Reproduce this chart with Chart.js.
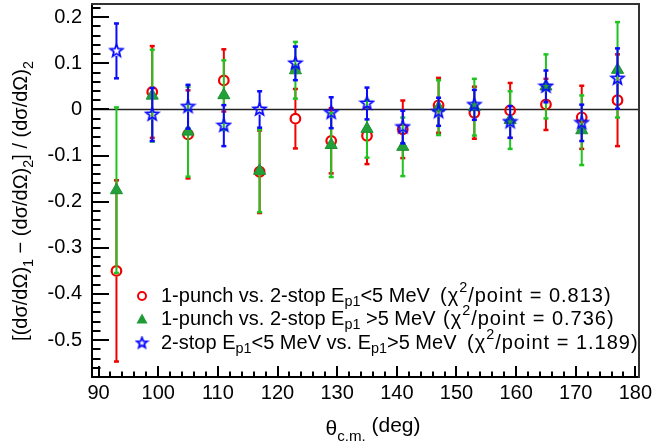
<!DOCTYPE html>
<html>
<head>
<meta charset="utf-8">
<script src="https://cdn.jsdelivr.net/npm/chart.js@4.4.1/dist/chart.umd.min.js"></script>
<style>
  html, body { margin: 0; padding: 0; background: #fff; }
</style>
</head>
<body>
<canvas id="chart" width="655" height="445"></canvas>
<script>
// scattering angles (deg)
const angles = [93, 99, 105, 111, 117, 123, 129, 135, 141, 147, 153, 159, 165, 171, 177];

// 1-punch vs. 2-stop Ep1 < 5 MeV
const lowVals = [-0.350, 0.038, -0.054, 0.063, -0.135, -0.020, -0.068, -0.057, -0.043, 0.009, -0.007, -0.002, 0.011, -0.017, 0.020];
const lowErrs = [0.197, 0.100, 0.096, 0.068, 0.090, 0.065, 0.071, 0.062, 0.063, 0.060, 0.057, 0.060, 0.056, 0.069, 0.100];

// 1-punch vs. 2-stop Ep1 > 5 MeV
const highVals = [-0.175, 0.030, -0.048, 0.031, -0.133, 0.085, -0.077, -0.042, -0.081, 0.004, 0.005, -0.023, 0.050, -0.045, 0.086];
const highErrs = [0.180, 0.100, 0.098, 0.076, 0.090, 0.062, 0.070, 0.063, 0.064, 0.060, 0.062, 0.063, 0.070, 0.076, 0.104];

// 2-stop Ep1 < 5 MeV vs. Ep1 > 5 MeV
const stopVals = [0.127, -0.011, 0.006, -0.035, 0.000, 0.100, -0.007, 0.013, -0.038, -0.005, 0.010, -0.027, 0.050, -0.029, 0.067];
const stopErrs = [0.060, 0.058, 0.048, 0.045, 0.040, 0.037, 0.034, 0.035, 0.036, 0.031, 0.033, 0.035, 0.035, 0.040, 0.066];

const xTicks = [90, 100, 110, 120, 130, 140, 150, 160, 170, 180];
const yTicks = [-0.5, -0.4, -0.3, -0.2, -0.1, 0, 0.1, 0.2];

// legend rows: [text, 'sub' | 'sup' | '']; second list is the chi2 part
const legendMain = [
  [["1-punch vs. 2-stop E", ""], ["p1", "sub"], ["<5 MeV", ""]],
  [["1-punch vs. 2-stop E", ""], ["p1", "sub"], [" >5 MeV", ""]],
  [["2-stop E", ""], ["p1", "sub"], ["<5 MeV vs. E", ""], ["p1", "sub"], [">5 MeV", ""]]
];
const legendChi = [
  [["(\u03c7", ""], ["2", "sup"], ["/point = 0.813)", ""]],
  [["(\u03c7", ""], ["2", "sup"], ["/point = 0.736)", ""]],
  [["(\u03c7", ""], ["2", "sup"], ["/point = 1.189)", ""]]
];
const yTitle = [["[(d\u03c3/d\u03a9)", ""], ["1", "sub"], [" \u2212 (d\u03c3/d\u03a9)", ""], ["2", "sub"], ["] / (d\u03c3/d\u03a9)", ""], ["2", "sub"]];
const xTitle = [["\u03b8", ""], ["c.m.", "sub"], [" (deg)", "up"]];

const FONT = "'Liberation Sans', Arial, sans-serif";
const FRAME_TOP = 0.228; // frame sits a bit above the last minor tick

function toPoints(vals) {
  return angles.map((a, i) => ({ x: a, y: vals[i] }));
}

// open star marker
function makeStar(color, outer, inner, lw) {
  const size = Math.ceil(outer * 2 + 4);
  const c = document.createElement('canvas');
  c.width = size; c.height = size;
  const g = c.getContext('2d');
  g.strokeStyle = color;
  g.lineWidth = lw;
  g.beginPath();
  for (let i = 0; i < 10; i++) {
    const r = i % 2 ? inner : outer;
    const a = -Math.PI / 2 + i * Math.PI / 5;
    g.lineTo(size / 2 + r * Math.cos(a), size / 2 + r * Math.sin(a));
  }
  g.closePath();
  g.stroke();
  return c;
}
const starImg = makeStar('#0a0aff', 6.5, 2.8, 1.8);
const starSmall = makeStar('#0a0aff', 5.5, 2.4, 1.8);

// text with sub/superscripts
function partFont(m, size) {
  return ((m === 'sub' || m === 'sup') ? size * 0.72 : size) + 'px ' + FONT;
}
function richWidth(ctx, parts, size) {
  let w = 0;
  parts.forEach(([t, m]) => {
    ctx.font = partFont(m, size);
    w += ctx.measureText(t).width;
  });
  return w;
}
function drawRich(ctx, parts, x, y, size) {
  parts.forEach(([t, m]) => {
    ctx.font = partFont(m, size);
    let dy = 0;
    if (m === 'sub') dy = size * 0.3;
    if (m === 'sup') dy = -size * 0.42;
    if (m === 'up') dy = -size * 0.15;
    ctx.fillText(t, x, y + dy);
    x += ctx.measureText(t).width;
  });
  return x;
}

// error bars, drawn just before each dataset's markers
const errorBars = {
  id: 'errorBars',
  beforeDatasetDraw(chart, args) {
    const ds = chart.data.datasets[args.index];
    const ys = chart.scales.y;
    const ctx = chart.ctx;
    ctx.save();
    ctx.strokeStyle = ds.barColor;
    ctx.fillStyle = ds.barColor;
    ctx.lineWidth = 2;
    args.meta.data.forEach((el, i) => {
      const v = ds.data[i].y, e = ds.errors[i];
      const top = ys.getPixelForValue(v + e);
      const bot = ys.getPixelForValue(v - e);
      const gap = ds.gap;
      ctx.beginPath();
      if (top < el.y - gap) { ctx.moveTo(el.x, top); ctx.lineTo(el.x, el.y - gap); }
      if (bot > el.y + gap) { ctx.moveTo(el.x, el.y + gap); ctx.lineTo(el.x, bot); }
      ctx.stroke();
      ctx.fillRect(el.x - 2.5, top - 1, 5, 2.5);
      ctx.fillRect(el.x - 2.5, bot - 1.5, 5, 2.5);
    });
    ctx.restore();
  }
};

// frame, inner ticks, zero line, titles, legend
const decor = {
  id: 'decor',
  beforeDatasetsDraw(chart) {
    const { ctx, chartArea, scales } = chart;
    const y0 = scales.y.getPixelForValue(0);
    ctx.save();
    ctx.strokeStyle = '#222';
    ctx.lineWidth = 1.3;
    ctx.beginPath();
    ctx.moveTo(chartArea.left, y0);
    ctx.lineTo(chartArea.right, y0);
    ctx.stroke();
    ctx.restore();
  },
  afterDraw(chart) {
    const { ctx, chartArea, scales } = chart;
    const xs = scales.x, ys = scales.y;
    const L = chartArea.left, R = chartArea.right, B = chartArea.bottom;
    const T = Math.round(ys.getPixelForValue(FRAME_TOP));
    ctx.save();
    ctx.fillStyle = '#000';
    // y ticks, minor every 0.02
    for (let k = -29; k <= 11; k++) {
      const p = Math.round(ys.getPixelForValue(k * 0.02));
      if (p < T || p > B) continue;
      const len = k % 5 === 0 ? 17 : 8.5;
      ctx.fillRect(L, p - 1, len, 2);
    }
    // x ticks, minor every 2 deg
    for (let d = 90; d <= 180; d += 2) {
      const p = Math.round(xs.getPixelForValue(d));
      const len = d % 10 === 0 ? 11 : 5.5;
      ctx.fillRect(p - 1, B - len, 2, len);
    }
    // frame
    ctx.fillRect(L - 1, T - 1, 2, B - T + 2);
    ctx.fillRect(L - 1, B - 1, R - L + 2, 2);
    ctx.fillStyle = '#333';
    ctx.fillRect(L - 1, T - 1, R - L + 2, 2);
    ctx.fillRect(R - 1, T - 1, 2, B - T + 2);

    // axis titles
    ctx.fillStyle = '#000';
    ctx.textBaseline = 'alphabetic';
    const xw = richWidth(ctx, xTitle, 21);
    drawRich(ctx, xTitle, 373 - xw / 2, 435, 21);

    ctx.save();
    ctx.translate(27, 201);
    ctx.rotate(-Math.PI / 2);
    const yw = richWidth(ctx, yTitle, 20);
    drawRich(ctx, yTitle, -yw / 2, 0, 20);
    ctx.restore();

    // legend
    const rowsY = [296, 319.5, 343];
    const chiX = [440, 443, 467];
    const mx = 142, tx = 161;
    ctx.strokeStyle = '#f00000';
    ctx.lineWidth = 2;
    ctx.beginPath();
    ctx.arc(mx, rowsY[0], 4, 0, Math.PI * 2);
    ctx.stroke();
    ctx.fillStyle = '#1f9a35';
    ctx.beginPath();
    ctx.moveTo(mx, rowsY[1] - 6);
    ctx.lineTo(mx + 5.5, rowsY[1] + 4);
    ctx.lineTo(mx - 5.5, rowsY[1] + 4);
    ctx.closePath();
    ctx.fill();
    ctx.drawImage(starSmall, mx - starSmall.width / 2, rowsY[2] - starSmall.height / 2);

    ctx.fillStyle = '#000';
    ctx.textBaseline = 'middle';
    legendMain.forEach((row, i) => drawRich(ctx, row, tx, rowsY[i], 20));
    ctx.letterSpacing = '1px';
    legendChi.forEach((row, i) => drawRich(ctx, row, chiX[i], rowsY[i], 20));
    ctx.letterSpacing = '0px';
    ctx.restore();
  }
};

new Chart(document.getElementById('chart'), {
  type: 'scatter',
  data: {
    datasets: [
      {
        label: '1-punch vs. 2-stop Ep1<5 MeV',
        data: toPoints(lowVals),
        errors: lowErrs,
        barColor: '#f00000',
        gap: 5.5,
        order: 3,
        pointStyle: 'circle',
        pointRadius: 4.8,
        pointBorderWidth: 2.2,
        pointBorderColor: '#f00000',
        pointBackgroundColor: 'rgba(0,0,0,0)'
      },
      {
        label: '1-punch vs. 2-stop Ep1>5 MeV',
        data: toPoints(highVals),
        errors: highErrs,
        barColor: '#20c420',
        gap: 0,
        order: 2,
        pointStyle: 'triangle',
        pointRadius: 7,
        pointBorderWidth: 1,
        pointBorderColor: '#1c8f30',
        pointBackgroundColor: '#22a03a'
      },
      {
        label: '2-stop Ep1<5 MeV vs. Ep1>5 MeV',
        data: toPoints(stopVals),
        errors: stopErrs,
        barColor: '#0a0aff',
        gap: 5,
        order: 1,
        pointStyle: starImg,
        pointRadius: 7
      }
    ]
  },
  options: {
    responsive: false,
    devicePixelRatio: 1,
    animation: false,
    layout: { padding: { left: 0, right: 16, top: 4, bottom: 0 } },
    plugins: {
      legend: { display: false },
      tooltip: { enabled: false }
    },
    scales: {
      x: {
        type: 'linear',
        min: 88.9,
        max: 180.6,
        afterFit: s => { s.height = 68; s.paddingLeft = 0; s.paddingRight = 0; },
        afterBuildTicks: s => { s.ticks = xTicks.map(v => ({ value: v })); },
        grid: { display: false, drawTicks: false },
        border: { display: false },
        ticks: {
          autoSkip: false,
          maxRotation: 0,
          padding: 4,
          color: '#000',
          font: { family: FONT, size: 20 },
          callback: v => String(v)
        }
      },
      y: {
        type: 'linear',
        min: -0.58,
        max: 0.22,
        afterFit: s => { s.width = 92; s.paddingTop = 0; s.paddingBottom = 0; },
        afterBuildTicks: s => { s.ticks = yTicks.map(v => ({ value: v })); },
        grid: { display: false, drawTicks: false },
        border: { display: false },
        ticks: {
          padding: 10,
          color: '#000',
          font: { family: FONT, size: 20 },
          callback: v => (Math.abs(v) < 1e-9 ? '0' : v.toFixed(1))
        }
      }
    }
  },
  plugins: [errorBars, decor]
});
</script>
</body>
</html>
